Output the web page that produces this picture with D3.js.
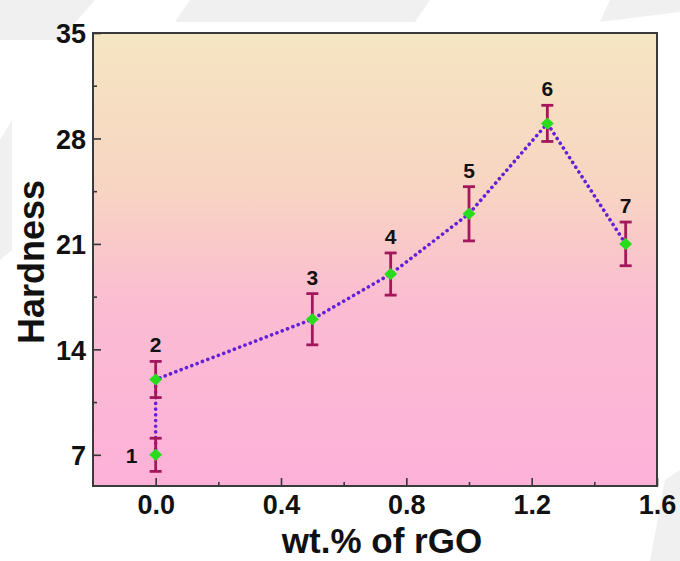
<!DOCTYPE html>
<html>
<head>
<meta charset="utf-8">
<script src="https://cdn.jsdelivr.net/npm/d3@7"></script>
<style>
  html, body { margin: 0; padding: 0; background: #fff; }
  svg { display: block; font-family: "Liberation Sans", Arial, sans-serif; }
</style>
</head>
<body>
<svg id="chart" width="680" height="561"></svg>
<script>
// Hardness versus rGO loading
const wtRGO    = [0, 0, 0.5, 0.75, 1.0, 1.25, 1.5];
const hardness = [7, 12, 16, 19, 23, 29, 21];
const errors   = [1.1, 1.2, 1.7, 1.4, 1.8, 1.2, 1.45];
const sampleLabels = ["1", "2", "3", "4", "5", "6", "7"];
const xTicks = [0.0, 0.4, 0.8, 1.2, 1.6];
const yTicks = [7, 14, 21, 28, 35];

const margin = { left: 93, top: 33, right: 23, bottom: 75 };
const W = 680, H = 561;
const iw = W - margin.left - margin.right;
const ih = H - margin.top - margin.bottom;

const svg = d3.select("#chart");

// faint grey slanted shapes in the page background
const bgShapes = [
  [[0, 0], [95, 0], [60, 40], [0, 40]],
  [[190, 0], [430, 0], [415, 22], [175, 22]],
  [[610, 0], [680, 0], [680, 12], [600, 22]],
  [[0, 140], [12, 120], [12, 250], [0, 260]],
  [[665, 480], [680, 470], [680, 561], [650, 561]]
];
svg.append("g").selectAll("path").data(bgShapes).join("path")
  .attr("d", d => d3.line()(d) + "Z")
  .attr("fill", "#f0f0f0");

const defs = svg.append("defs");
const grad = defs.append("linearGradient")
  .attr("id", "bgGrad").attr("x1", 0).attr("y1", 0).attr("x2", 0).attr("y2", 1);
grad.append("stop").attr("offset", "0%").attr("stop-color", "#f5e6c2");
grad.append("stop").attr("offset", "35%").attr("stop-color", "#f8d4c2");
grad.append("stop").attr("offset", "60%").attr("stop-color", "#fbbcd2");
grad.append("stop").attr("offset", "100%").attr("stop-color", "#fdb1d9");

const x = d3.scaleLinear().domain([-0.2, 1.6]).range([0, iw]);
const y = d3.scaleLinear().domain([4.93, 35]).range([ih, 0]);

const g = svg.append("g").attr("transform", `translate(${margin.left},${margin.top})`);

g.append("rect").attr("width", iw).attr("height", ih).attr("fill", "url(#bgGrad)");

// inward ticks: major and minor
const xMinor = [0.2, 0.6, 1.0, 1.4];
const yMinor = [10.5, 17.5, 24.5, 31.5];

const xAxis = g.append("g").attr("transform", `translate(0,${ih})`)
  .call(d3.axisBottom(x).tickValues(xTicks).tickFormat(d3.format(".1f")).tickSize(-8).tickPadding(9));
const yAxis = g.append("g")
  .call(d3.axisLeft(y).tickValues(yTicks).tickFormat(d3.format("d")).tickSize(-8).tickPadding(7));
g.append("g").attr("transform", `translate(0,${ih})`)
  .call(d3.axisBottom(x).tickValues(xMinor).tickFormat("").tickSize(-4))
  .call(s => s.select(".domain").remove());
g.append("g")
  .call(d3.axisLeft(y).tickValues(yMinor).tickFormat("").tickSize(-4))
  .call(s => s.select(".domain").remove());

[xAxis, yAxis].forEach(a => {
  a.select(".domain").remove();
  a.selectAll("text").attr("font-size", 27).attr("font-weight", "bold").attr("fill", "#111");
});
g.selectAll(".tick line").attr("stroke", "#333").attr("stroke-width", 1.6);
yAxis.selectAll("text").attr("dy", "0.36em");

// frame
g.append("rect").attr("width", iw).attr("height", ih)
  .attr("fill", "none").attr("stroke", "#3a3a3a").attr("stroke-width", 2);

const pts = wtRGO.map((v, i) => ({ x: v, y: hardness[i], e: errors[i], label: sampleLabels[i] }));

// dotted connecting line
g.append("path").datum(pts)
  .attr("d", d3.line().x(d => x(d.x)).y(d => y(d.y)))
  .attr("fill", "none").attr("stroke", "#6420d8").attr("stroke-width", 3.6)
  .attr("stroke-dasharray", "0.1 5.6").attr("stroke-linecap", "round");

// error bars
const eb = g.append("g").attr("stroke", "#a3175c").attr("stroke-width", 2.8);
eb.selectAll("line.v").data(pts).join("line").attr("class", "v")
  .attr("x1", d => x(d.x)).attr("x2", d => x(d.x))
  .attr("y1", d => y(d.y + d.e)).attr("y2", d => y(d.y - d.e));
eb.selectAll("line.t").data(pts).join("line").attr("class", "t")
  .attr("x1", d => x(d.x) - 6).attr("x2", d => x(d.x) + 6)
  .attr("y1", d => y(d.y + d.e)).attr("y2", d => y(d.y + d.e));
eb.selectAll("line.b").data(pts).join("line").attr("class", "b")
  .attr("x1", d => x(d.x) - 6).attr("x2", d => x(d.x) + 6)
  .attr("y1", d => y(d.y - d.e)).attr("y2", d => y(d.y - d.e));

// diamond markers
g.selectAll("path.m").data(pts).join("path").attr("class", "m")
  .attr("transform", d => `translate(${x(d.x)},${y(d.y)})`)
  .attr("d", "M0,-6L6.5,0L0,6L-6.5,0Z")
  .attr("fill", "#27dc1c");

// sample numbers
g.selectAll("text.lbl").data(pts).join("text").attr("class", "lbl")
  .attr("x", (d, i) => i === 0 ? x(d.x) - 24 : x(d.x))
  .attr("y", (d, i) => i === 0 ? y(d.y) + 8 : y(d.y + d.e) - 9)
  .attr("text-anchor", "middle")
  .attr("font-size", 21).attr("font-weight", "bold").attr("fill", "#111")
  .text(d => d.label);

// axis titles
svg.append("text")
  .attr("x", 382).attr("y", 553)
  .attr("text-anchor", "middle").attr("font-size", 35).attr("font-weight", "bold").attr("fill", "#111")
  .text("wt.% of rGO");
svg.append("text")
  .attr("transform", `translate(44,262) rotate(-90)`)
  .attr("text-anchor", "middle").attr("font-size", 36).attr("font-weight", "bold").attr("fill", "#111")
  .text("Hardness");
</script>
</body>
</html>
